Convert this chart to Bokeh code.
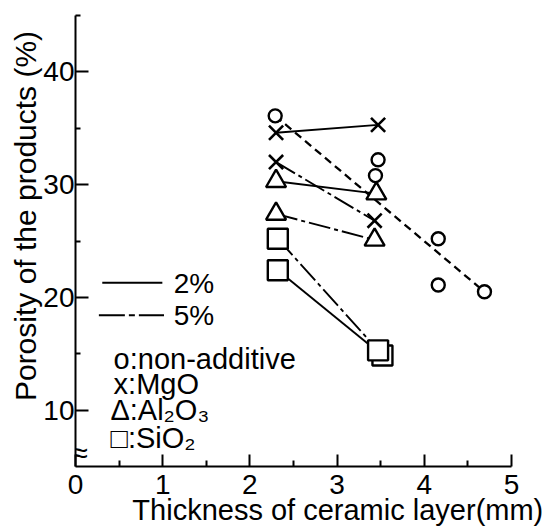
from bokeh.plotting import figure
from bokeh.models import FixedTicker, Range1d
from bokeh.core.properties import value
from bokeh.embed import file_html
from bokeh.resources import INLINE

# ---------------- data ----------------
# non-additive (open circles) and its dashed trend line
na_x = [2.29, 3.47, 3.44, 4.16, 4.16, 4.69]
na_y = [36.1, 32.2, 30.8, 25.2, 21.1, 20.5]
na_line_x = [2.29, 4.69]
na_line_y = [36.1, 20.5]

# MgO (x marks): 2 % solid, 5 % dash-dot
mgo_2_x = [2.30, 3.47]
mgo_2_y = [34.6, 35.3]
mgo_5_x = [2.30, 3.43]
mgo_5_y = [32.0, 26.8]

# Al2O3 (triangles)
al_2_x = [2.30, 3.45]
al_2_y = [30.3, 29.2]
al_5_x = [2.30, 3.43]
al_5_y = [27.4, 25.1]

# SiO2 (squares)
si_2_x = [2.32, 3.52]
si_2_y = [22.4, 14.85]
si_5_x = [2.32, 3.47]
si_5_y = [25.2, 15.3]

x_ticks = [0, 1, 2, 3, 4, 5]
x_minor = [0.5, 1.5, 2.5, 3.5, 4.5]
y_ticks = [10, 20, 30, 40]
y_minor = [15, 25, 35, 45]

x_title = "Thickness of ceramic layer(mm)"
y_title = "Porosity of the products (%)"
legend_rates = ["2%", "5%"]
legend_kinds = ["o:non-additive", "x:MgO", "Δ:Al₂O₃", "□:SiO₂"]

FONT = "Liberation Sans"
NBSP = "\u00a0"

p = figure(width=545, height=529, output_backend="svg", toolbar_location=None,
           x_range=Range1d(0, 5), y_range=Range1d(5, 45),
           min_border_left=75, min_border_right=34, min_border_top=15,
           min_border_bottom=63)
p.outline_line_color = None
p.xgrid.grid_line_color = None
p.ygrid.grid_line_color = None
p.background_fill_color = "white"

# axes
for ax in (p.xaxis[0], p.yaxis[0]):
    ax.axis_line_width = 2
    ax.axis_line_color = "black"
    ax.major_tick_line_width = 2
    ax.minor_tick_line_width = 2
    ax.major_tick_line_color = "black"
    ax.minor_tick_line_color = "black"
    ax.major_tick_out = 0
    ax.minor_tick_out = 0
    ax.major_label_text_font = FONT
    ax.major_label_text_font_size = "28px"
    ax.major_label_text_color = "black"
    ax.axis_label_text_font = FONT
    ax.axis_label_text_font_style = "normal"
    ax.axis_label_text_color = "black"

p.xaxis.ticker = FixedTicker(ticks=x_ticks, minor_ticks=x_minor)
p.yaxis.ticker = FixedTicker(ticks=y_ticks, minor_ticks=y_minor)
p.xaxis.major_tick_in = 12
p.xaxis.minor_tick_in = 6
p.yaxis.major_tick_in = 13
p.yaxis.minor_tick_in = 5
p.xaxis.major_label_standoff = 8
p.yaxis.major_label_standoff = 1

# axis titles (padded so that they sit where the original has them)
p.xaxis.axis_label = NBSP * 11 + x_title
p.xaxis.axis_label_text_font_size = "29px"
p.xaxis.axis_label_standoff = -3
p.yaxis.axis_label = NBSP * 6 + y_title
p.yaxis.axis_label_text_font_size = "30px"
p.yaxis.axis_label_standoff = -2

# lines
SOLID_W = 1.9
DD = "22 4 4 4"
p.line(na_line_x, na_line_y, line_color="black", line_width=2.3, line_dash="8 5")
p.line(mgo_2_x, mgo_2_y, line_color="black", line_width=SOLID_W)
p.line(mgo_5_x, mgo_5_y, line_color="black", line_width=SOLID_W, line_dash=DD)
p.line(al_2_x, al_2_y, line_color="black", line_width=SOLID_W)
p.line(al_5_x, al_5_y, line_color="black", line_width=SOLID_W, line_dash=DD)
p.line(si_2_x, si_2_y, line_color="black", line_width=SOLID_W)
p.line(si_5_x, si_5_y, line_color="black", line_width=SOLID_W, line_dash=DD)

# markers
p.scatter(na_x, na_y, marker="circle", size=13, fill_color="white",
          line_color="black", line_width=2.4)
p.scatter(mgo_2_x + mgo_5_x, mgo_2_y + mgo_5_y, marker="x", size=20,
          line_color="black", line_width=2.6)
p.scatter(al_2_x + al_5_x, al_2_y + al_5_y, marker="triangle", size=20,
          fill_color="white", line_color="black", line_width=2.4)
p.scatter(si_2_x, si_2_y, marker="square", size=20, fill_color="white",
          line_color="black", line_width=2.4)
p.scatter(si_5_x, si_5_y, marker="square", size=20, fill_color="white",
          line_color="black", line_width=2.4)

# legend (drawn by hand as in the original)
p.line([0.307, 0.996], [21.3, 21.3], line_color="black", line_width=SOLID_W)
p.line([0.268, 1.015], [18.41, 18.41], line_color="black", line_width=SOLID_W,
       line_dash="26 4 6 4")
p.text(x=[1.126, 1.126], y=[21.19, 18.35], text=legend_rates,
       text_font=value(FONT), text_font_size=value("28px"),
       text_baseline="middle", text_align="left", text_color="black")
p.text(x=[0.437, 0.437, 0.40, 0.40], y=[14.53, 12.31, 10.0, 7.52],
       text=legend_kinds,
       text_font=value(FONT), text_font_size=value("29px"),
       text_baseline="alphabetic", text_align="left", text_color="black")

# axis break mark on the y axis
p.text(x=[0.046], y=[6.25], text=["≈"], text_font=value(FONT),
       text_font_size=value("30px"), text_align="center",
       text_baseline="middle", text_color="black")

open("out.html", "w").write(file_html(p, INLINE))
